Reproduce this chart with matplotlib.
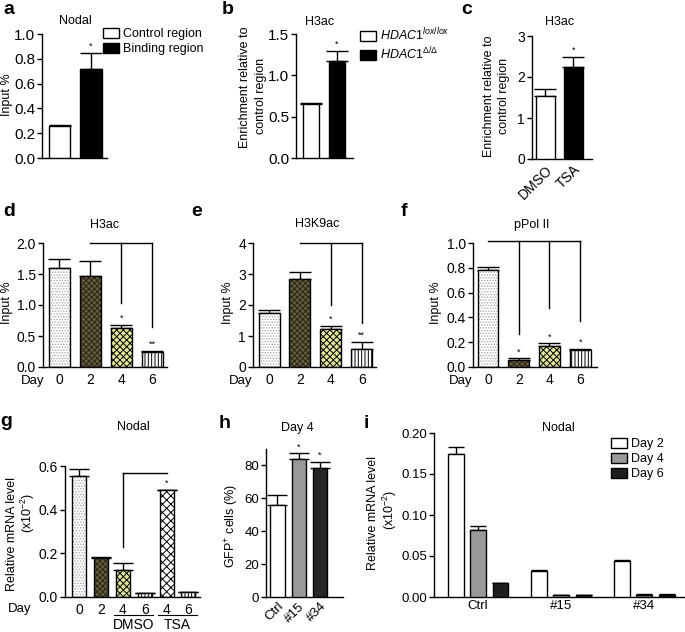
import numpy as np
import matplotlib
matplotlib.use("Agg")
import matplotlib.pyplot as plt
from matplotlib.patches import Patch

# Data ------------------------------------------------------------------

a_groups = ["Control region", "Binding region"]
a_vals = [0.255, 0.72]
a_err = [0.012, 0.13]
a_sig = ["", "*"]

b_groups = [r"$\mathit{HDAC1}^{\mathit{lox/lox}}$", r"$\mathit{HDAC1}^{\Delta/\Delta}$"]
b_vals = [0.65, 1.17]
b_err = [0.02, 0.13]
b_sig = ["", "*"]

c_labels = ["DMSO", "TSA"]
c_vals = [1.53, 2.25]
c_err = [0.18, 0.24]
c_sig = ["", "*"]

days = ["0", "2", "4", "6"]
d_vals = [1.60, 1.47, 0.63, 0.25]
d_err = [0.14, 0.24, 0.05, 0.01]
d_sig = ["", "", "*", "**"]

e_vals = [1.75, 2.84, 1.23, 0.58]
e_err = [0.09, 0.23, 0.10, 0.22]
e_sig = ["", "", "*", "**"]

f_vals = [0.78, 0.054, 0.17, 0.137]
f_err = [0.03, 0.016, 0.02, 0.01]
f_sig = ["", "*", "*", "*"]

g_days = ["0", "2", "4", "6", "4", "6"]
g_vals = [0.553, 0.177, 0.123, 0.017, 0.489, 0.022]
g_err = [0.035, 0.004, 0.034, 0.002, 0.003, 0.003]
g_sig = ["", "", "", "", "*", ""]

h_labels = ["Ctrl", "#15", "#34"]
h_vals = [56.2, 83.7, 78.6]
h_err = [6.0, 3.6, 3.6]
h_sig = ["", "*", "*"]

i_groups = ["Ctrl", "#15", "#34"]
i_series = ["Day 2", "Day 4", "Day 6"]
i_day2 = [0.175, 0.032, 0.044]
i_day4 = [0.082, 0.002, 0.003]
i_day6 = [0.0166, 0.002, 0.003]
i_day2_err = [0.008, 0.001, 0.001]
i_day4_err = [0.004, 0.0005, 0.0005]
i_day6_err = [0.001, 0.0005, 0.0005]

# Styles ----------------------------------------------------------------

# (face, hatch, hatch colour) for the day patterns in d-g
day_style = {
    "0": ("white", "......", "#a8a8a8"),
    "2": ("#665c3c", "xxxxxx", "#2a2618"),
    "4": ("#e2e69a", "xxxxx", "black"),
    "6": ("white", "|||||", "black"),
    "TSA": ("white", "xxxx", "black"),
}

plt.rcParams["font.family"] = ["Liberation Sans", "DejaVu Sans"]
plt.rcParams["mathtext.fontset"] = "custom"
plt.rcParams["mathtext.rm"] = "Liberation Sans"
plt.rcParams["mathtext.it"] = "Liberation Sans:italic"
plt.rcParams["hatch.linewidth"] = 0.7
plt.rcParams["axes.linewidth"] = 1.0

FS = 9
W, H = 685, 632
fig = plt.figure(figsize=(W / 100, H / 100), dpi=100)


# Helpers ---------------------------------------------------------------

def px_axes(x0, y_top, x1, y_bot):
    return fig.add_axes([x0 / W, 1 - y_bot / H, (x1 - x0) / W, (y_bot - y_top) / H])


def ftext(x, y, s, **kw):
    kw.setdefault("ha", "center")
    kw.setdefault("va", "center")
    kw.setdefault("fontsize", FS)
    fig.text(x / W, 1 - y / H, s, **kw)


def style(ax, xlim, ylim, yticks, fmt, ts=10.5, xpad=2.5):
    ax.spines[["top", "right"]].set_visible(False)
    ax.set_xlim(*xlim)
    ax.set_ylim(*ylim)
    ax.set_yticks(yticks)
    ax.set_yticklabels([fmt % t for t in yticks])
    ax.tick_params(axis="y", direction="out", length=3.5, width=1, labelsize=ts, pad=1.5)
    ax.tick_params(axis="x", length=0, labelsize=ts, pad=xpad)


def bar(ax, x, h, w, face="white", hatch=None, hcolor="black"):
    if hatch:
        ax.bar(x, h, w, color=face, edgecolor=hcolor, hatch=hatch, linewidth=0, zorder=2)
        ax.bar(x, h, w, fill=False, edgecolor="black", linewidth=1.0, zorder=3)
    else:
        ax.bar(x, h, w, color=face, edgecolor="black", linewidth=1.0, zorder=3)


def errs(ax, x, vals, err, sig=None, capsize=8):
    ax.errorbar(x, vals, yerr=[np.zeros(len(err)), err], fmt="none",
                ecolor="black", elinewidth=1.0, capsize=capsize, capthick=1.0, zorder=1)
    if sig:
        for xi, v, e, s in zip(x, vals, err, sig):
            if s:
                ax.annotate(s, (xi, v + e), xytext=(0, 1.5), textcoords="offset points",
                            ha="center", va="bottom", fontsize=6.5)


def bracket(ax, x0, x1, ytop, drops):
    ax.plot([x0, x1], [ytop, ytop], color="black", lw=1.0, clip_on=False)
    for xd, yd in drops:
        ax.plot([xd, xd], [ytop, yd], color="black", lw=1.0, clip_on=False)


def legend_at(ax, handles, labels, x, y):
    ax.legend(handles, labels, loc="upper left", bbox_to_anchor=(x / W, 1 - y / H),
              bbox_transform=fig.transFigure, frameon=False, fontsize=FS,
              handlelength=1.25, handleheight=0.85, handletextpad=0.35,
              labelspacing=0.2, borderpad=0, borderaxespad=0)


def box(color):
    return Patch(facecolor=color, edgecolor="black", linewidth=1.0)


# Panel a ---------------------------------------------------------------

ax = px_axes(42, 34, 107, 158)
x = np.arange(len(a_vals))
bar(ax, x[0], a_vals[0], 0.67, "white")
bar(ax, x[1], a_vals[1], 0.67, "black")
errs(ax, x, a_vals, a_err, a_sig)
style(ax, (-0.556, 1.508), (0, 1.0), np.arange(0, 1.01, 0.2), "%.1f", 11)
ax.set_xticks([])
legend_at(ax, [box("white"), box("black")], a_groups, 103, 28)
ftext(75, 21, "Nodal")
ftext(7, 95, "Input %", rotation=90)
ftext(9, 10, "a", fontsize=14, fontweight="bold")

# Panel b ---------------------------------------------------------------

ax = px_axes(296, 34, 353, 158)
x = np.arange(len(b_vals))
bar(ax, x[0], b_vals[0], 0.65, "white")
bar(ax, x[1], b_vals[1], 0.65, "black")
errs(ax, x, b_vals, b_err, b_sig)
style(ax, (-0.58, 1.62), (0, 1.5), [0, 0.5, 1.0, 1.5], "%.1f", 11)
ax.set_xticks([])
legend_at(ax, [box("white"), box("black")], b_groups, 360, 27)
ftext(320, 22, "H3ac")
ftext(245, 87, "Enrichment relative to", rotation=90)
ftext(261, 96, "control region", rotation=90)
ftext(228, 10, "b", fontsize=14, fontweight="bold")

# Panel c ---------------------------------------------------------------

ax = px_axes(532, 36, 592, 159)
x = np.arange(len(c_vals))
bar(ax, x[0], c_vals[0], 0.68, "white")
bar(ax, x[1], c_vals[1], 0.68, "black")
errs(ax, x, c_vals, c_err, c_sig)
style(ax, (-0.48, 1.66), (0, 3), [0, 1, 2, 3], "%d", 10)
ax.set_xticks(x)
ax.set_xticklabels(c_labels, rotation=45, ha="right", rotation_mode="anchor")
ftext(560, 22, "H3ac")
ftext(489, 96, "Enrichment relative to", rotation=90)
ftext(504, 96, "control region", rotation=90)
ftext(467, 9, "c", fontsize=14, fontweight="bold")


# Panels d, e, f --------------------------------------------------------

def day_panel(box_px, vals, err, sig, xlim, ylim, yticks, fmt):
    ax = px_axes(*box_px)
    x = np.arange(len(vals))
    for xi, v, d in zip(x, vals, days):
        face, hatch, hc = day_style[d]
        bar(ax, xi, v, 0.68, face, hatch, hc)
    errs(ax, x, vals, err, sig)
    style(ax, xlim, ylim, yticks, fmt, 10, xpad=4.5)
    ax.set_xticks(x)
    ax.set_xticklabels(days)
    return ax


ax = day_panel((43, 243, 167, 367), d_vals, d_err, d_sig, (-0.53, 3.47), (0, 2.0),
               [0, 0.5, 1.0, 1.5, 2.0], "%.1f")
bracket(ax, 1, 3, 2.0, [(2, 1.03), (3, 0.65)])
ftext(105, 225, "H3ac")
ftext(7, 303, "Input %", rotation=90)
ftext(33, 381, "Day", fontsize=9.5)
ftext(9, 212, "d", fontsize=14, fontweight="bold")

ax = day_panel((253, 243, 376, 367), e_vals, e_err, e_sig, (-0.52, 3.46), (0, 4),
               [0, 1, 2, 3, 4], "%d")
bracket(ax, 1, 3, 4.0, [(2, 2.0), (3, 1.42)])
ftext(317, 224, "H3K9ac")
ftext(228, 303, "Input %", rotation=90)
ftext(241, 381, "Day", fontsize=9.5)
ftext(197, 212, "e", fontsize=14, fontweight="bold")

ax = day_panel((473, 243, 597, 367), f_vals, f_err, f_sig, (-0.49, 3.55), (0, 1.0),
               np.arange(0, 1.01, 0.2), "%.1f")
bracket(ax, 0, 3, 1.02, [(1, 0.27), (2, 0.475), (3, 0.37)])
ftext(532, 225, "pPol II")
ftext(436, 303, "Input %", rotation=90)
ftext(461, 381, "Day", fontsize=9.5)
ftext(404, 212, "f", fontsize=14, fontweight="bold")

# Panel g ---------------------------------------------------------------

ax = px_axes(65, 466, 200, 597)
x = np.arange(len(g_vals))
g_keys = ["0", "2", "4", "6", "TSA", "6"]
for xi, v, k in zip(x, g_vals, g_keys):
    face, hatch, hc = day_style[k]
    bar(ax, xi, v, 0.64, face, hatch, hc)
errs(ax, x, g_vals, g_err, g_sig, capsize=7)
style(ax, (-0.64, 5.53), (0, 0.6), [0, 0.2, 0.4, 0.6], "%.1f", 10, xpad=4)
ax.set_xticks(x)
ax.set_xticklabels(g_days)
bracket(ax, 2, 4, 0.57, [(2, 0.23)])
trans = ax.get_xaxis_transform()
for lo, hi, name in [(1.6, 3.4, "DMSO"), (3.6, 5.4, "TSA")]:
    ax.plot([lo, hi], [-0.135, -0.135], color="black", lw=0.8, transform=trans, clip_on=False)
    ax.text((lo + hi) / 2, -0.21, name, transform=trans, ha="center", va="center", fontsize=10)
ftext(133, 427, "Nodal")
ftext(12, 534, "Relative mRNA level", rotation=90)
ftext(28, 513, r"(x10$^{-2}$)", rotation=90)
ftext(20, 609, "Day", fontsize=9.5)
ftext(6, 421, "g", fontsize=14, fontweight="bold")

# Panel h ---------------------------------------------------------------

ax = px_axes(266, 449, 343, 597)
x = np.arange(len(h_vals))
for xi, v, c in zip(x, h_vals, ["white", "#999999", "#262626"]):
    bar(ax, xi, v, 0.68, c)
errs(ax, x, h_vals, h_err, h_sig, capsize=7)
style(ax, (-0.54, 3.08), (0, 90), [0, 20, 40, 60, 80], "%d", 9.5)
ax.set_xticks(x)
ax.set_xticklabels(h_labels, rotation=45, ha="right", rotation_mode="anchor")
ftext(297, 428, "Day 4")
ftext(232, 526, r"GFP$^{+}$ cells (%)", rotation=90)
ftext(225, 424, "h", fontsize=14, fontweight="bold")

# Panel i ---------------------------------------------------------------

ax = px_axes(434, 433, 685, 597)
x = np.arange(len(i_groups))
off, bw = 0.27, 0.19
i_colors = ["white", "#999999", "#1e1e1e"]
for k, (vals, err) in enumerate([(i_day2, i_day2_err), (i_day4, i_day4_err), (i_day6, i_day6_err)]):
    xs = x + (k - 1) * off
    bar(ax, xs, vals, bw, i_colors[k])
    errs(ax, xs, vals, err, capsize=6)
style(ax, (-0.53, 2.49), (0, 0.2), [0, 0.05, 0.10, 0.15, 0.20], "%.2f", 9.5)
ax.set_xticks(x)
ax.set_xticklabels(i_groups)
legend_at(ax, [box(c) for c in i_colors], i_series, 611, 438)
ftext(558, 428, "Nodal")
ftext(373, 513, "Relative mRNA level", rotation=90)
ftext(390, 510, r"(x10$^{-2}$)", rotation=90)
ftext(366, 424, "i", fontsize=14, fontweight="bold")

fig.savefig("out.png", dpi=100)
